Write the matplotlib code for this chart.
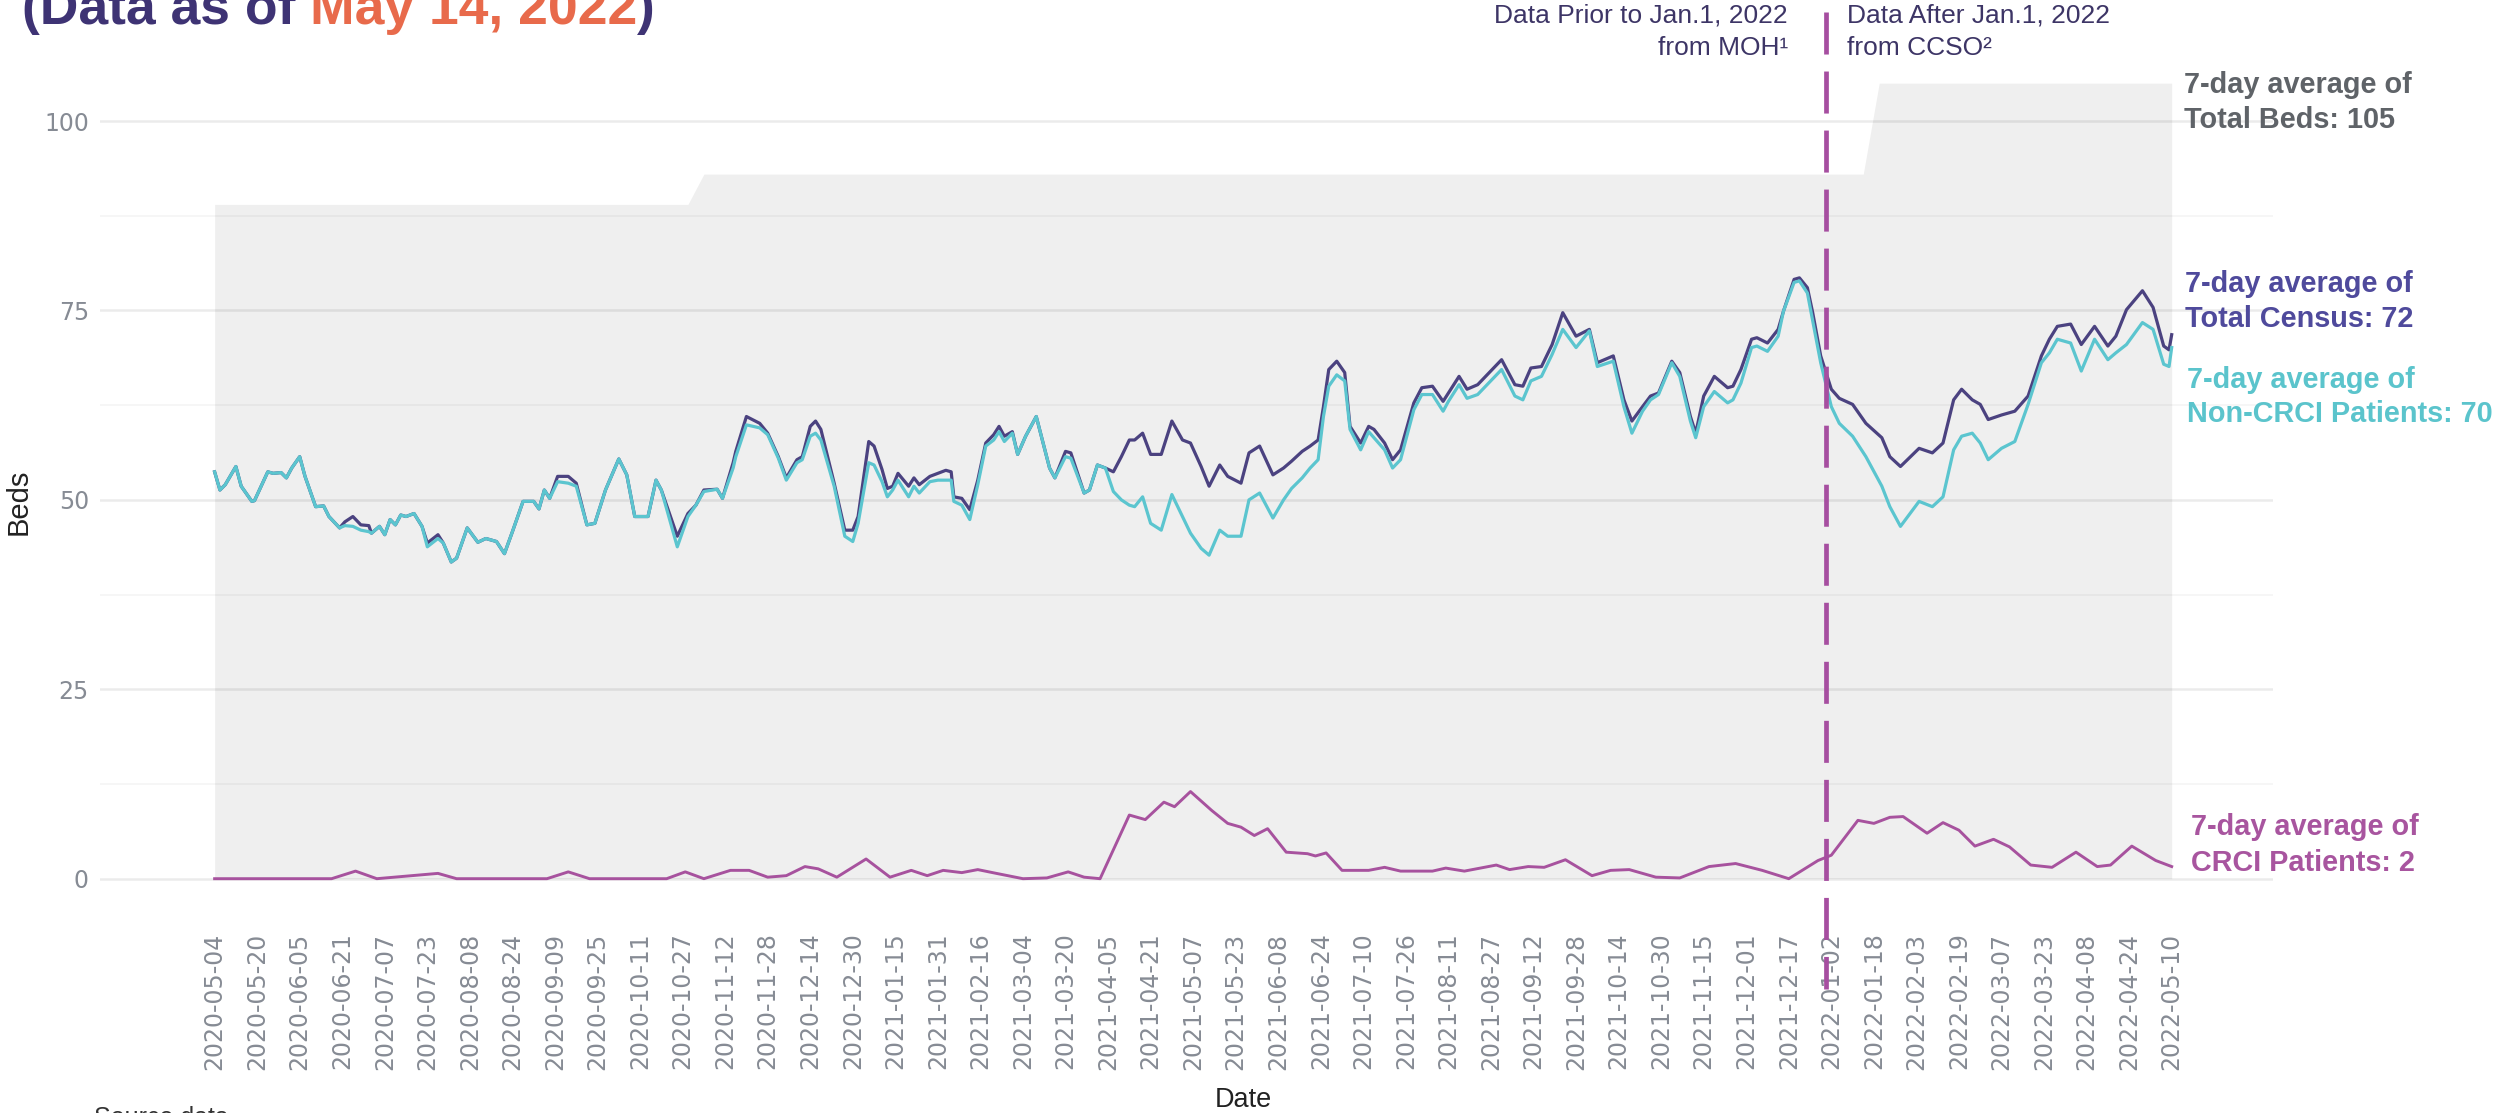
import numpy as np
import pandas as pd
import matplotlib
matplotlib.use("Agg")
import matplotlib.pyplot as plt
import matplotlib.dates as mdates

# ---- data (7-day averages) ----
start_date = "2020-05-04"
last_date = "2022-05-10"

# days since 2020-05-04, shared by the two census series
census_day = [
    0, 2, 4, 8, 10, 14, 15, 20, 22, 25,
    27, 29, 32, 34, 38, 41, 43, 47, 49, 52,
    55, 58, 59, 62, 64, 66, 68, 70, 72, 75,
    78, 80, 84, 86, 89, 91, 95, 99, 102, 106,
    109, 112, 116, 120, 122, 124, 126, 129, 133, 136,
    140, 143, 147, 152, 155, 158, 163, 166, 168, 174,
    178, 181, 184, 189, 191, 195, 196, 200, 205, 208,
    212, 215, 219, 221, 224, 226, 228, 233, 237, 240,
    242, 246, 248, 251, 253, 255, 257, 261, 263, 265,
    269, 272, 275, 277, 278, 281, 284, 287, 290, 293,
    295, 297, 300, 302, 305, 309, 314, 316, 320, 322,
    327, 329, 332, 335, 338, 341, 344, 346, 349, 352,
    356, 360, 364, 367, 371, 374, 378, 381, 386, 389,
    393, 398, 402, 405, 409, 412, 415, 417, 419, 422,
    425, 427, 431, 434, 436, 440, 443, 446, 451, 454,
    458, 462, 464, 468, 471, 475, 478, 484, 489, 492,
    495, 499, 503, 507, 512, 517, 520, 526, 530, 533,
    537, 540, 543, 548, 551, 555, 557, 560, 564, 569,
    571, 574, 578, 580, 584, 588, 590, 594, 596, 599,
    601, 604, 608, 611, 616, 621, 627, 630, 634, 641,
    646, 650, 654, 657, 661, 664, 667, 672, 677, 682,
    687, 690, 693, 698, 702, 707, 712, 715, 719, 725,
    729, 733, 735, 736,
]

total_census = [
    53.7, 51.3, 52.0, 54.4, 51.8, 49.8, 49.9, 53.7, 53.5, 53.6,
    52.9, 54.2, 55.7, 53.1, 49.1, 49.2, 47.8, 46.3, 47.1, 47.8,
    46.7, 46.6, 45.6, 46.5, 45.4, 47.4, 46.7, 48.0, 47.8, 48.2,
    46.5, 44.3, 45.4, 44.3, 41.8, 42.3, 46.3, 44.4, 44.9, 44.5,
    42.9, 45.8, 49.8, 49.8, 48.8, 51.3, 50.2, 53.1, 53.1, 52.2,
    46.7, 46.9, 51.3, 55.4, 53.3, 47.8, 47.8, 52.6, 51.3, 45.2,
    48.2, 49.3, 51.3, 51.4, 50.2, 54.9, 56.4, 61.0, 60.1, 58.8,
    55.7, 52.9, 55.3, 55.7, 59.7, 60.4, 59.3, 52.2, 46.0, 46.0,
    47.8, 57.7, 57.1, 54.0, 51.5, 51.8, 53.5, 51.8, 52.9, 52.0,
    53.1, 53.5, 53.9, 53.7, 50.4, 50.2, 48.7, 52.6, 57.5, 58.6,
    59.7, 58.4, 59.0, 56.0, 58.4, 61.0, 54.2, 52.9, 56.4, 56.2,
    50.9, 51.3, 54.6, 54.2, 53.7, 55.7, 57.9, 57.9, 58.8, 56.0,
    56.0, 60.4, 57.9, 57.5, 54.4, 51.8, 54.6, 53.1, 52.2, 56.2,
    57.1, 53.3, 54.2, 55.1, 56.4, 57.1, 57.9, 62.3, 67.2, 68.3,
    66.8, 59.7, 57.5, 59.7, 59.3, 57.5, 55.3, 56.6, 62.8, 64.8,
    65.0, 63.0, 64.1, 66.3, 64.6, 65.2, 66.3, 68.5, 65.2, 65.0,
    67.4, 67.6, 70.5, 74.7, 71.6, 72.5, 68.1, 69.0, 63.2, 60.4,
    62.3, 63.7, 64.1, 68.3, 66.8, 61.0, 58.8, 63.7, 66.3, 64.8,
    65.0, 67.2, 71.2, 71.4, 70.7, 72.5, 74.9, 79.1, 79.3, 78.0,
    74.7, 69.0, 64.6, 63.4, 62.6, 60.1, 58.2, 55.7, 54.4, 56.8,
    56.2, 57.5, 63.2, 64.6, 63.2, 62.6, 60.6, 61.2, 61.7, 63.7,
    69.0, 71.2, 72.9, 73.2, 70.5, 72.9, 70.3, 71.6, 75.1, 77.6,
    75.4, 70.3, 69.8, 71.8,
]

non_crci = [
    53.7, 51.3, 52.0, 54.4, 51.8, 49.8, 49.9, 53.7, 53.5, 53.6,
    52.9, 54.2, 55.7, 53.1, 49.1, 49.2, 47.8, 46.3, 46.6, 46.5,
    46.0, 45.8, 45.6, 46.5, 45.4, 47.4, 46.7, 48.0, 47.8, 48.2,
    46.5, 43.8, 44.9, 44.3, 41.8, 42.3, 46.3, 44.4, 44.9, 44.5,
    42.9, 45.8, 49.8, 49.8, 48.8, 51.3, 50.2, 52.4, 52.2, 51.8,
    46.7, 46.9, 51.3, 55.4, 53.3, 47.8, 47.8, 52.6, 51.3, 43.8,
    47.8, 49.3, 51.1, 51.4, 50.2, 54.2, 55.7, 59.9, 59.5, 58.6,
    55.5, 52.6, 54.9, 55.3, 58.4, 58.8, 57.9, 51.8, 45.2, 44.5,
    46.9, 54.9, 54.6, 52.4, 50.4, 51.3, 52.6, 50.4, 51.8, 50.9,
    52.4, 52.6, 52.6, 52.6, 49.8, 49.3, 47.4, 52.0, 57.1, 57.9,
    59.0, 57.7, 58.8, 56.0, 58.4, 61.0, 54.2, 52.9, 55.7, 55.5,
    50.9, 51.3, 54.6, 54.2, 51.1, 50.0, 49.3, 49.1, 50.4, 46.9,
    46.0, 50.7, 47.8, 45.6, 43.6, 42.7, 46.0, 45.2, 45.2, 50.0,
    50.9, 47.6, 50.0, 51.5, 52.9, 54.2, 55.3, 61.0, 65.0, 66.5,
    65.7, 59.3, 56.6, 59.0, 58.2, 56.6, 54.2, 55.3, 61.9, 63.9,
    63.9, 61.7, 63.0, 65.2, 63.4, 63.9, 65.0, 67.2, 63.7, 63.2,
    65.7, 66.3, 69.2, 72.5, 70.1, 72.3, 67.6, 68.3, 62.3, 58.8,
    61.7, 63.2, 63.9, 68.1, 66.3, 60.4, 58.2, 62.3, 64.3, 62.8,
    63.2, 65.4, 70.1, 70.3, 69.6, 71.6, 74.9, 78.7, 78.9, 77.3,
    73.6, 68.1, 62.3, 60.1, 58.4, 55.7, 51.8, 49.1, 46.5, 49.8,
    49.1, 50.4, 56.6, 58.4, 58.8, 57.5, 55.3, 56.8, 57.7, 62.6,
    68.1, 69.4, 71.2, 70.7, 67.0, 71.2, 68.5, 69.4, 70.5, 73.4,
    72.5, 67.9, 67.6, 70.1,
]

crci_day = [
    0, 44, 53, 61, 84, 91, 125, 133, 141, 170,
    177, 184, 194, 201, 208, 215, 222, 227, 234, 245,
    254, 262, 268, 274, 281, 287, 294, 304, 313, 321,
    327, 333, 344, 350, 357, 361, 367, 375, 381, 386,
    391, 396, 403, 411, 414, 418, 424, 434, 440, 446,
    458, 463, 470, 482, 487, 494, 500, 508, 518, 525,
    532, 542, 551, 562, 572, 582, 592, 603, 608, 618,
    624, 630, 635, 644, 650, 656, 662, 669, 675, 683,
    691, 700, 708, 713, 721, 730, 736,
]
crci = [
    0, 0, 1.0, 0, 0.7, 0, 0, 0.9, 0, 0,
    0.9, 0, 1.1, 1.1, 0.2, 0.4, 1.6, 1.3, 0.2, 2.6,
    0.2, 1.1, 0.4, 1.1, 0.8, 1.2, 0.7, 0, 0.1, 0.9,
    0.2, 0, 8.4, 7.8, 10.1, 9.5, 11.5, 9.0, 7.3, 6.8,
    5.7, 6.6, 3.5, 3.3, 3.0, 3.4, 1.1, 1.1, 1.5, 1.0,
    1.0, 1.4, 1.0, 1.8, 1.2, 1.6, 1.5, 2.5, 0.4, 1.1,
    1.2, 0.2, 0.1, 1.6, 2.0, 1.1, 0, 2.4, 3.1, 7.7,
    7.3, 8.1, 8.2, 6.0, 7.4, 6.4, 4.3, 5.2, 4.2, 1.8,
    1.5, 3.5, 1.6, 1.8, 4.3, 2.4, 1.6,
]

# total bed capacity (step changes)
beds_day = [0, 178, 184, 620, 626, 736]
total_beds = [89, 89, 93, 93, 105, 105]

divider_date = "2021-12-31"
yticks = [0, 25, 50, 75, 100]

assert len(census_day) == len(total_census) == len(non_crci)
assert len(crci_day) == len(crci)

# ---- styling ----
W, H = 2501, 1113
c_census = "#4B4280"
c_noncrci = "#5BC5CF"
c_crci = "#A7529E"
c_title = "#3E3374"
c_orange = "#E86A4B"
c_note = "#3D3566"
c_tick = "#868B94"
lab_font = "Liberation Sans"

plt.rcParams["font.family"] = ["DejaVu Sans"]

start = pd.Timestamp(start_date)


def to_dates(days):
    return (start + pd.to_timedelta(days, unit="D")).to_numpy()


fig = plt.figure(figsize=(W / 100, H / 100), dpi=100)
ax = fig.add_axes([100 / W, 0.18329, 2173 / W, 0.76244])

ax.fill_between(to_dates(beds_day), 0, total_beds, color="black", alpha=0.062,
                lw=0, zorder=1)
ax.plot(to_dates(census_day), total_census, color=c_census, lw=2.3, zorder=3)
ax.plot(to_dates(census_day), non_crci, color=c_noncrci, lw=2.3, zorder=4)
ax.plot(to_dates(crci_day), crci, color=c_crci, lw=2.1, zorder=4)

# dashed divider crossing the whole chart
div = np.datetime64(divider_date)
ax.plot([div, div], [114.4, -14.6], color="#A64EA0", lw=3.4,
        dashes=(8.9, 3.6), dash_capstyle="butt", clip_on=False, zorder=5)

num0 = mdates.date2num(start)
ax.set_xlim(num0 - 43.1, num0 + 774.1)
ax.set_ylim(-4, 108)

tick_dates = pd.date_range(start_date, last_date, freq="16D")
ax.set_xticks(tick_dates.to_numpy())
ax.set_xticklabels([d.strftime("%Y-%m-%d") for d in tick_dates], rotation=90)
ax.set_yticks(yticks)
ax.set_yticks([12.5, 37.5, 62.5, 87.5], minor=True)
ax.tick_params(axis="x", length=0, pad=17, labelsize=17, labelcolor=c_tick)
ax.tick_params(axis="y", length=0, pad=8, labelsize=17, labelcolor=c_tick)
ax.tick_params(axis="y", which="minor", length=0)
ax.grid(axis="y", which="major", color="black", alpha=0.08, lw=1.8)
ax.grid(axis="y", which="minor", color="black", alpha=0.04, lw=1.3)
for s in ax.spines.values():
    s.set_visible(False)


def px_text(x, y, s, **kw):
    kw.setdefault("family", lab_font)
    return fig.text(x / W, 1 - y / H, s, **kw)


# axis titles
px_text(19, 502, "Beds", rotation=90, ha="center", va="center",
        fontsize=21, color="#222222")
px_text(1243, 1107, "Date", ha="center", va="baseline", fontsize=19.5,
        color="#222222")
px_text(94, 1106, "Source data", ha="left", va="top", fontsize=18,
        color="#333333")

# title (clipped at the top edge, as in the original)
renderer = fig.canvas.get_renderer()
x = 22
for part, col, gap in [("(Data as of", c_title, 14.8),
                       ("May 14, 2022", c_orange, 0),
                       (")", c_title, 0)]:
    t = px_text(x, 24, part, ha="left", va="baseline", fontsize=38.5,
                fontweight="bold", color=col)
    bb = t.get_window_extent(renderer)
    x = bb.x1 + gap

# source notes around the divider
px_text(1788, 23, "Data Prior to Jan.1, 2022", ha="right", va="baseline",
        fontsize=19, color=c_note)
px_text(1788, 55, "from MOH\u00b9", ha="right", va="baseline",
        fontsize=19, color=c_note)
px_text(1847, 23, "Data After Jan.1, 2022", ha="left", va="baseline",
        fontsize=19, color=c_note)
px_text(1847, 55, "from CCSO\u00b2", ha="left", va="baseline",
        fontsize=19, color=c_note)

# end labels
end_labels = [
    (2184, 93, 128, "Total Beds: 105", "#5F6368"),
    (2185, 292, 327, "Total Census: 72", "#4F4A9C"),
    (2187, 388, 422, "Non-CRCI Patients: 70", "#5BC4CC"),
    (2191, 835, 871, "CRCI Patients: 2", "#A8559F"),
]
for lx, y1, y2, txt, col in end_labels:
    px_text(lx, y1, "7-day average of", ha="left", va="baseline",
            fontsize=20.8, fontweight="bold", color=col)
    px_text(lx, y2, txt, ha="left", va="baseline", fontsize=20.8,
            fontweight="bold", color=col)

fig.savefig("out.png", dpi=100)
